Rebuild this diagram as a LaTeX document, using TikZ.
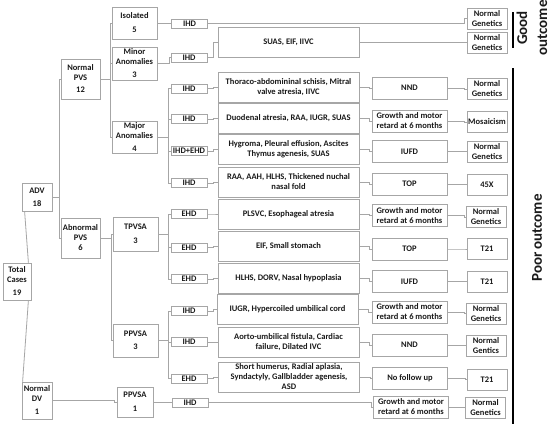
\documentclass[tikz,border=0pt]{standalone}
\usepackage{fontspec}
\setmainfont{Carlito}
\definecolor{boxgray}{HTML}{A6A6A6}
\definecolor{txt}{HTML}{1A1A1A}
\tikzset{
  box/.style={draw=boxgray, line width=0.8bp, inner sep=0pt, align=center, text=txt,
    font=\bfseries\fontsize{8.5bp}{10bp}\selectfont},
  conn/.style={draw=boxgray, line width=0.8bp},
  hd/.style={box, minimum width=36bp, minimum height=9bp},
  desc/.style={box, minimum width=141bp, minimum height=30bp},
  outc/.style={box, minimum width=75bp, minimum height=22bp},
  gen/.style={box, minimum width=40bp, minimum height=21bp},
  side/.style={rotate=90, align=center, text=txt, font=\bfseries\fontsize{15bp}{20bp}\selectfont},
  bar/.style={draw=black, line width=1.5bp}
}
\begin{document}
\begin{tikzpicture}[x=1bp,y=-1bp]
\useasboundingbox[fill=white] (0,0) rectangle (550,428);
% column A
\node[box, minimum width=28bp, minimum height=37bp] (total) at (17,281.5) {Total\\Cases\\[3bp]19};
\node[box, minimum width=30bp, minimum height=28bp] (adv) at (37,197) {ADV\\[3bp]18};
\node[box, minimum width=30bp, minimum height=37bp] (ndv) at (37,400.5) {Normal\\DV\\[3bp]1};
% column B
\node[box, minimum width=39bp, minimum height=40bp] (npvs) at (80.5,79) {Normal\\PVS\\[2bp]12};
\node[box, minimum width=39bp, minimum height=40bp] (apvs) at (80.5,238) {Abnormal\\PVS\\6};
% column C
\node[box, minimum width=45bp, minimum height=32bp] (iso) at (134.5,23) {Isolated\\[4bp]5};
\node[box, minimum width=45bp, minimum height=33bp] (minor) at (134.5,63.5) {Minor\\Anomalies\\[3bp]3};
\node[box, minimum width=45bp, minimum height=32bp] (major) at (134.5,137) {Major\\Anomalies\\[3bp]4};
\node[box, minimum width=45bp, minimum height=34bp] (tpvsa) at (135.5,234) {TPVSA\\[4bp]3};
\node[box, minimum width=45bp, minimum height=33bp] (ppvsa) at (135.5,340.5) {PPVSA\\[3bp]3};
\node[box, minimum width=36bp, minimum height=30bp] (ppvsa1) at (135,402) {PPVSA\\[4bp]1};
% column D
\node[hd] (h1) at (189.5,23.5) {IHD};
\node[hd] (h2) at (189,57.5) {IHD};
\node[hd] (h3) at (189,88.5) {IHD};
\node[hd] (h4) at (189,119) {IHD};
\node[hd] (h5) at (189,151) {IHD+EHD};
\node[hd] (h6) at (189,183) {IHD};
\node[hd] (h7) at (189,214) {EHD};
\node[hd] (h8) at (189,247.5) {EHD};
\node[hd] (h9) at (189,279) {EHD};
\node[hd] (h10) at (189,311) {IHD};
\node[hd] (h11) at (189,342) {IHD};
\node[hd] (h12) at (189,378.5) {EHD};
\node[hd] (h13) at (190,402.5) {IHD};
% column E
\node[desc] (d2) at (288.5,42) {SUAS, EIF, IIVC};
\node[desc] (d3) at (288.5,87) {Thoraco-abdomininal schisis, Mitral\\valve atresia, IIVC};
\node[desc] (d4) at (288.5,118) {Duodenal atresia, RAA, IUGR, SUAS};
\node[desc] (d5) at (288.5,149.5) {Hygroma, Pleural effusion, Ascites\\Thymus agenesis, SUAS};
\node[desc] (d6) at (288.5,182) {RAA, AAH, HLHS, Thickened nuchal\\nasal fold};
\node[desc] (d7) at (288.5,214) {PLSVC, Esophageal atresia};
\node[desc] (d8) at (288.5,246.5) {EIF, Small stomach};
\node[desc] (d9) at (288.5,278) {HLHS, DORV, Nasal hypoplasia};
\node[desc] (d10) at (287.5,309) {IUGR, Hypercoiled umbilical cord};
\node[desc] (d11) at (288.5,342) {Aorto-umbilical fistula, Cardiac\\failure, Dilated IVC};
\node[desc] (d12) at (289,377) {Short humerus, Radial aplasia,\\Syndactyly, Gallbladder agenesis,\\ASD};
% column F
\node[outc] (o3) at (409.5,88) {NND};
\node[outc] (o4) at (409.5,121) {Growth and motor\\retard at 6 months};
\node[outc] (o5) at (409.5,151.5) {IUFD};
\node[outc] (o6) at (409.5,184) {TOP};
\node[outc] (o7) at (409.5,215.5) {Growth and motor\\retard at 6 months};
\node[outc] (o8) at (409.5,249) {TOP};
\node[outc] (o9) at (409.5,281.5) {IUFD};
\node[outc] (o10) at (409.5,312) {Growth and motor\\retard at 6 months};
\node[outc] (o11) at (409.5,345) {NND};
\node[outc] (o12) at (410,378.5) {No follow up};
\node[outc] (o13) at (411,407) {Growth and motor\\retard at 6 months};
% column G
\node[gen] (g1) at (487,18.5) {Normal\\Genetics};
\node[gen] (g2) at (487,42.5) {Normal\\Genetics};
\node[gen] (g3) at (487,89) {Normal\\Genetics};
\node[gen] (g4) at (487,122) {Mosaicism};
\node[gen] (g5) at (487,151.5) {Normal\\Genetics};
\node[gen] (g6) at (487,184.5) {45X};
\node[gen] (g7) at (486,217) {Normal\\Genetics};
\node[gen] (g8) at (487,249) {T21};
\node[gen] (g9) at (487,281.5) {T21};
\node[gen] (g10) at (486,313.5) {Normal\\Genetics};
\node[gen] (g11) at (486,345.5) {Normal\\Gentics};
\node[gen] (g12) at (487,379.5) {T21};
\node[gen] (g13) at (485.5,407.5) {Normal\\Genetics};
% side labels
\coordinate (gtop) at (513,12);
\coordinate (gbot) at (513,48);
\coordinate (ptop) at (513,68);
\coordinate (pbot) at (513,424);
\draw[bar] (gtop) -- (gbot);
\draw[bar] (ptop) -- (pbot);
\node[side] (good) at (532,28) {Good\\outcome};
\node[side] (poor) at (537,238) {Poor\hspace{3bp}outcome};
% connectors
\draw[conn] ([xshift=3bp]adv.south west) -- ([xshift=-3bp]total.north east);
\draw[conn] ([xshift=-3bp]total.south east) -- ([xshift=1bp]ndv.north west);
\draw[conn] (adv.east) -- ++(7,0) |- (npvs.west);
\draw[conn] (adv.east) -- ++(7,0) |- (apvs.west);
\foreach \t in {iso,minor,major}
  \draw[conn] (npvs.east) -- ++(10,0) |- (\t.west);
\foreach \t in {tpvsa,ppvsa}
  \draw[conn] (apvs.east) -- ++(11,0) |- (\t.west);
\draw[conn] (ndv.east) -- ++(62,0) |- (ppvsa1.west);
\draw[conn] (iso.east) -- ++(11,0) |- (h1.west);
\draw[conn] (minor.east) -- ++(12,0) |- (h2.west);
\foreach \t in {h3,h4,h5,h6}
  \draw[conn] (major.east) -- ++(11,0) |- (\t.west);
\foreach \t in {h7,h8,h9}
  \draw[conn] (tpvsa.east) -- ++(10,0) |- (\t.west);
\foreach \t in {h10,h11,h12}
  \draw[conn] (ppvsa.east) -- ++(10,0) |- (\t.west);
\draw[conn] (ppvsa1.east) -- ++(15,0) |- (h13.west);
\draw[conn] (h1.east) -- ++(256,0) |- (g1.west);
\draw[conn] (h2.east) -- ++(6,0) |- (d2.west);
\draw[conn] (d2.east) -- ++(104,0) |- (g2.west);
\foreach \k in {3,...,12}{
  \draw[conn] (h\k.east) -- ++(6,0) |- (d\k.west);
  \draw[conn] (d\k.east) -- ++(10,0) |- (o\k.west);
  \draw[conn] (o\k.east) -- ++(17,0) |- (g\k.west);
}
\draw[conn] (h13.east) -- ++(163,0) |- (o13.west);
\draw[conn] (o13.east) -- ++(15,0) |- (g13.west);
\end{tikzpicture}
\end{document}
